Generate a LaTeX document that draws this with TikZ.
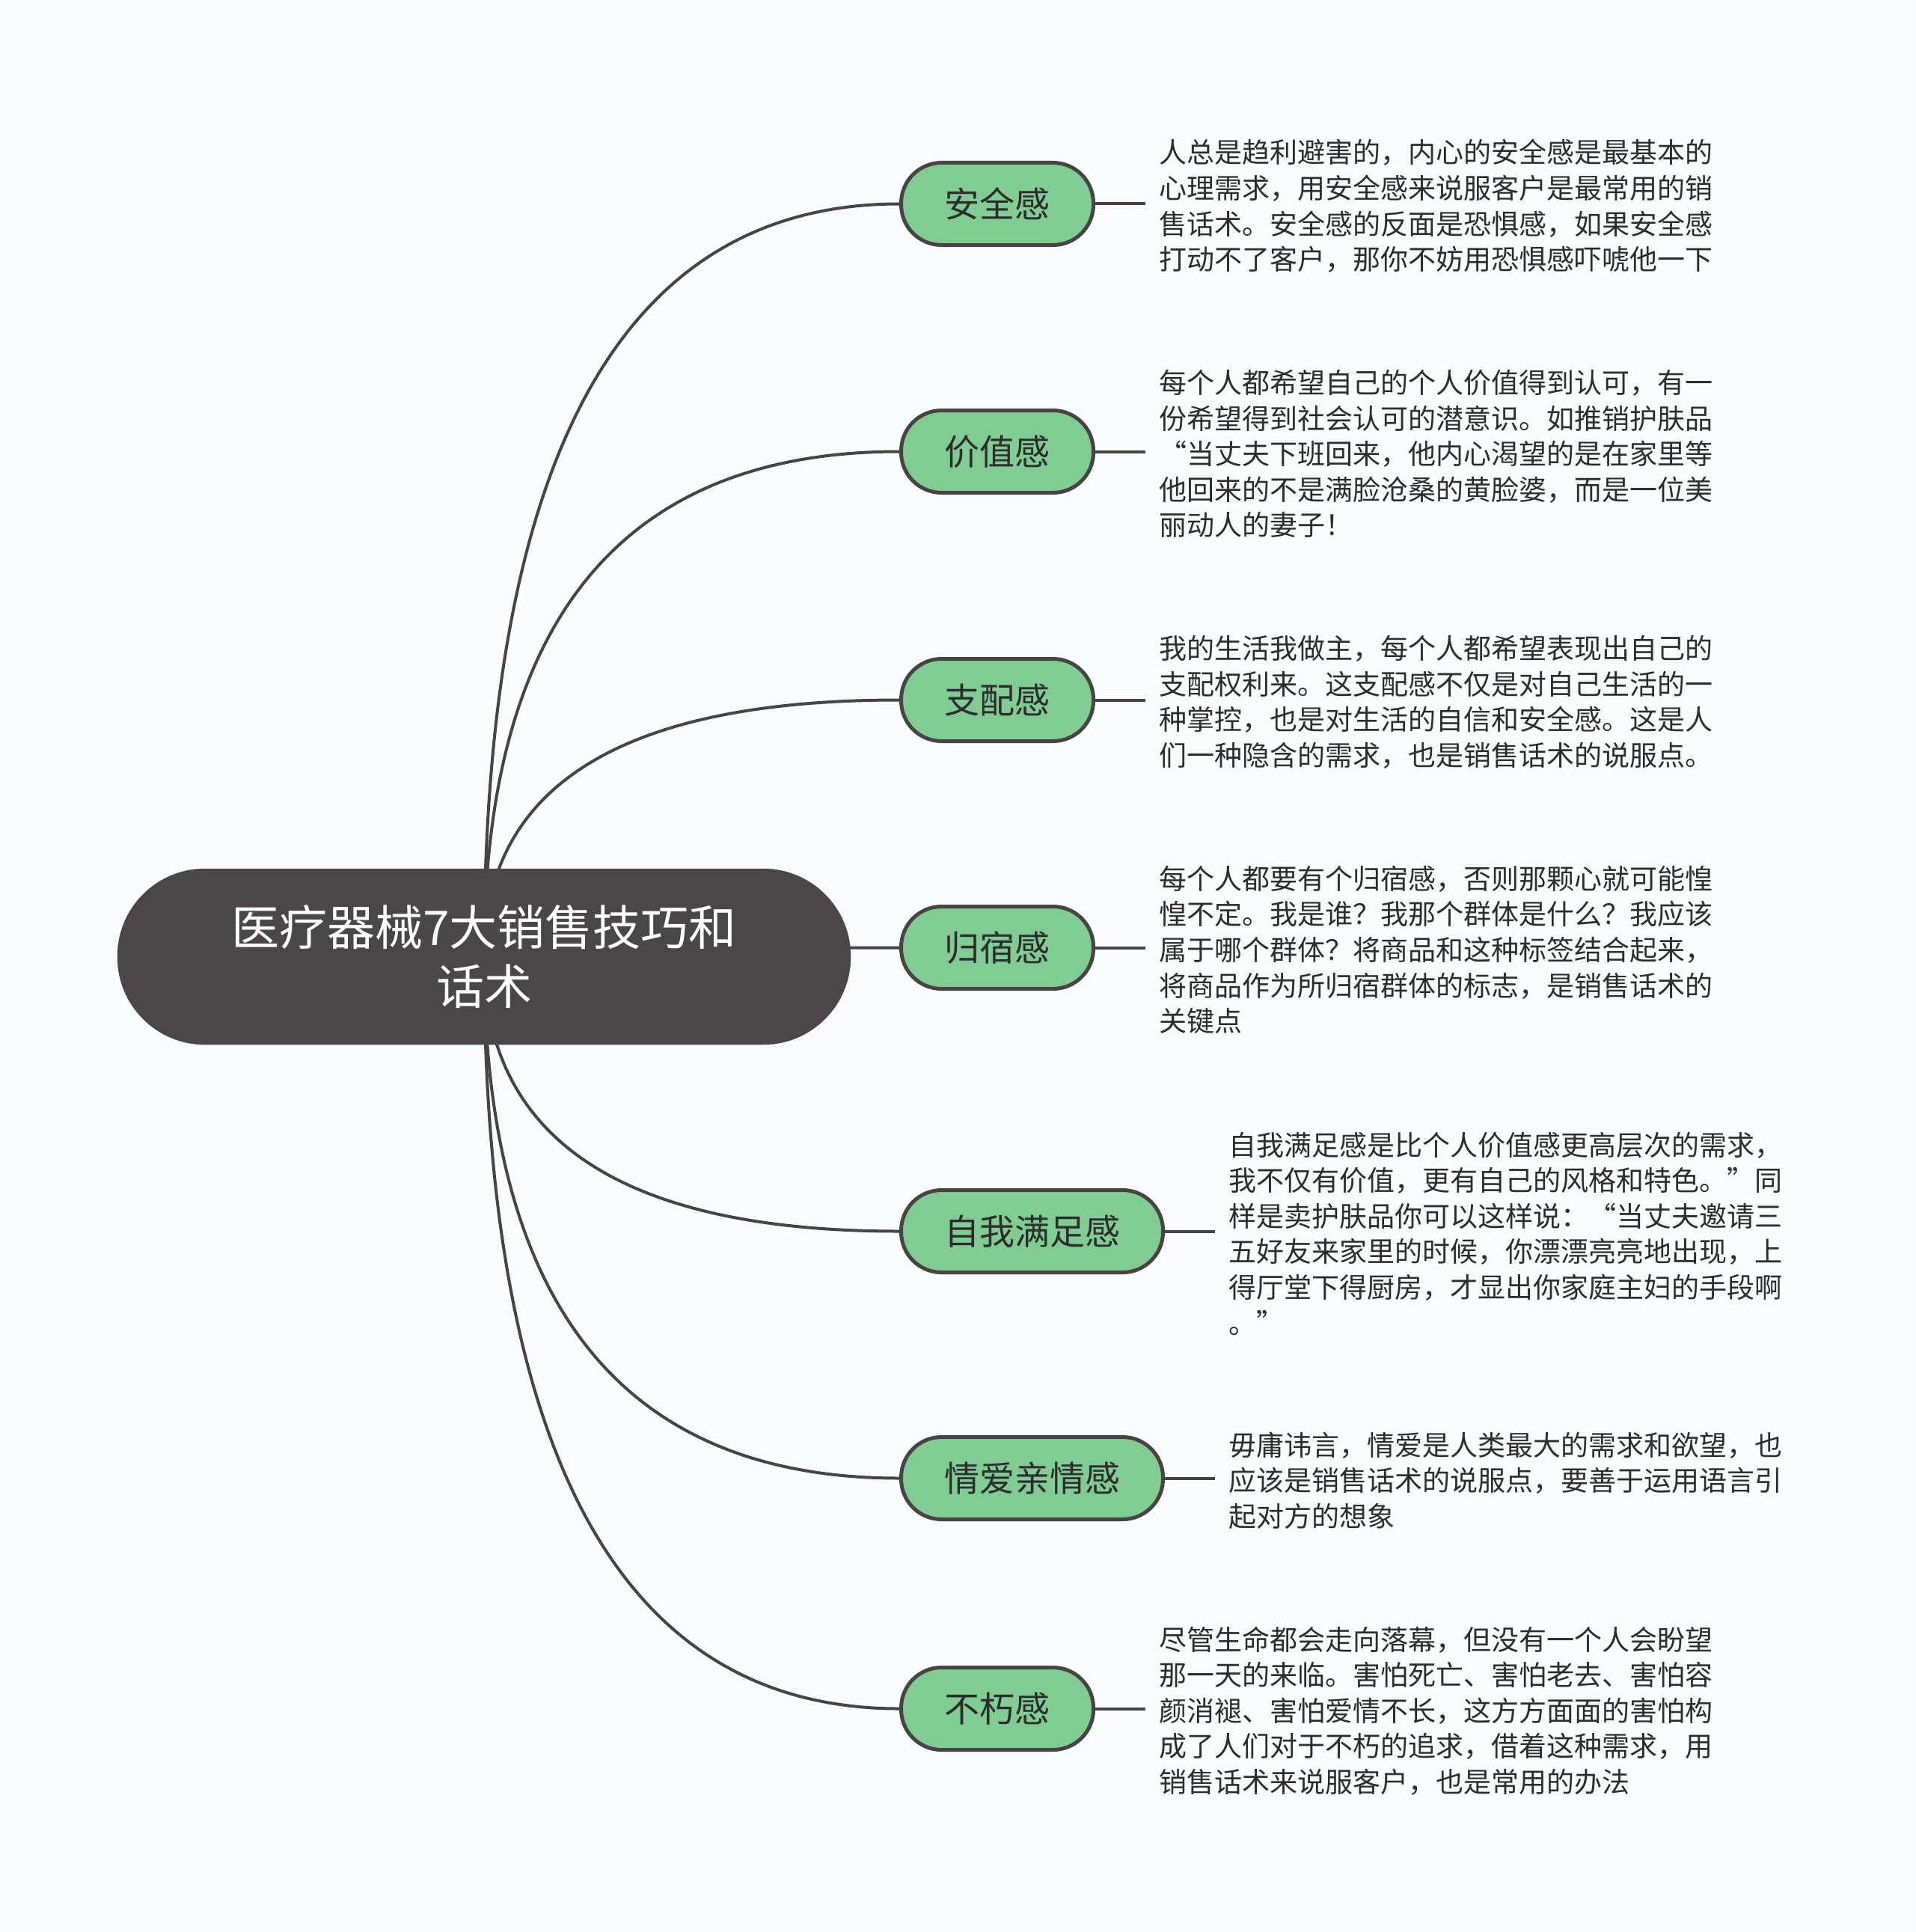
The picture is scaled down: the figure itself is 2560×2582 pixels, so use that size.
\documentclass[tikz,border=0pt]{standalone}
\usepackage{fontspec}
\setmainfont{Noto Sans CJK SC}
\usetikzlibrary{calc}
\pgfdeclarelayer{back}
\pgfdeclarelayer{bg}
\pgfsetlayers{back,bg,main}
\definecolor{bgcol}{RGB}{248,252,254}
\definecolor{rootcol}{RGB}{76,71,70}
\definecolor{greencol}{RGB}{128,204,146}
\definecolor{edgecol}{RGB}{72,68,68}
\definecolor{txtcol}{RGB}{45,45,45}
\tikzset{
  rootbox/.style={rectangle, rounded corners=117pt, fill=rootcol, draw=rootcol,
    minimum width=980pt, minimum height=235pt, inner sep=0pt, text=white,
    align=center, font=\fontsize{64}{79}\selectfont},
  branchbox/.style={rectangle, rounded corners=54pt, fill=greencol, draw=edgecol,
    line width=5pt, minimum height=110pt, inner sep=0pt, anchor=west,
    text=txtcol, font=\fontsize{47}{56}\selectfont},
  desc/.style={anchor=west, inner xsep=18pt, inner ysep=0pt, align=left,
    text=txtcol, font=\fontsize{37}{47.6}\selectfont},
  conn/.style={draw=edgecol, line width=4pt},
}
\begin{document}
\begin{tikzpicture}[x=1pt,y=-1pt]
\useasboundingbox (0,0) rectangle (2560,2582);
\begin{pgfonlayer}{back}
\fill[bgcol] (0,0) rectangle (2560,2582);
\end{pgfonlayer}

\node[rootbox] (root) at (647,1278.5) {医疗器械7大销售技巧和\\话术};

\node[branchbox, minimum width=257pt] (b1) at (1202,272.5) {安全感};
\node[branchbox, minimum width=257pt] (b2) at (1202,603.5) {价值感};
\node[branchbox, minimum width=257pt] (b3) at (1202,935.5) {支配感};
\node[branchbox, minimum width=257pt] (b4) at (1202,1266.5) {归宿感};
\node[branchbox, minimum width=350pt] (b5) at (1202,1645.5) {自我满足感};
\node[branchbox, minimum width=350pt] (b6) at (1202,1975.5) {情爱亲情感};
\node[branchbox, minimum width=257pt] (b7) at (1202,2283.5) {不朽感};

\node[desc] (t1) at ($(b1.east)+(67,3)$) {人总是趋利避害的，内心的安全感是最基本的\\心理需求，用安全感来说服客户是最常用的销\\售话术。安全感的反面是恐惧感，如果安全感\\打动不了客户，那你不妨用恐惧感吓唬他一下};
\node[desc] (t2) at ($(b2.east)+(67,3)$) {每个人都希望自己的个人价值得到认可，有一\\份希望得到社会认可的潜意识。如推销护肤品\\“当丈夫下班回来，他内心渴望的是在家里等\\他回来的不是满脸沧桑的黄脸婆，而是一位美\\丽动人的妻子！};
\node[desc] (t3) at ($(b3.east)+(67,3)$) {我的生活我做主，每个人都希望表现出自己的\\支配权利来。这支配感不仅是对自己生活的一\\种掌控，也是对生活的自信和安全感。这是人\\们一种隐含的需求，也是销售话术的说服点。};
\node[desc] (t4) at ($(b4.east)+(67,3)$) {每个人都要有个归宿感，否则那颗心就可能惶\\惶不定。我是谁？我那个群体是什么？我应该\\属于哪个群体？将商品和这种标签结合起来，\\将商品作为所归宿群体的标志，是销售话术的\\关键点};
\node[desc] (t5) at ($(b5.east)+(67,3)$) {自我满足感是比个人价值感更高层次的需求，\\我不仅有价值，更有自己的风格和特色。”同\\样是卖护肤品你可以这样说：“当丈夫邀请三\\五好友来家里的时候，你漂漂亮亮地出现，上\\得厅堂下得厨房，才显出你家庭主妇的手段啊\\。”};
\node[desc] (t6) at ($(b6.east)+(67,3)$) {毋庸讳言，情爱是人类最大的需求和欲望，也\\应该是销售话术的说服点，要善于运用语言引\\起对方的想象};
\node[desc] (t7) at ($(b7.east)+(67,3)$) {尽管生命都会走向落幕，但没有一个人会盼望\\那一天的来临。害怕死亡、害怕老去、害怕容\\颜消褪、害怕爱情不长，这方方面面的害怕构\\成了人们对于不朽的追求，借着这种需求，用\\销售话术来说服客户，也是常用的办法};

\begin{pgfonlayer}{bg}
\foreach \i in {1,...,7}{
  \coordinate (k\i) at (root.center |- b\i.west);
  \draw[conn] (root.center) .. controls ($(root.center)!0.6667!(k\i)$) and ($(b\i.west)!0.6667!(k\i)$) .. (b\i.west);
  \draw[conn] (b\i.east) -- (b\i.east -| t\i.west);
}
\end{pgfonlayer}
\end{tikzpicture}
\end{document}
